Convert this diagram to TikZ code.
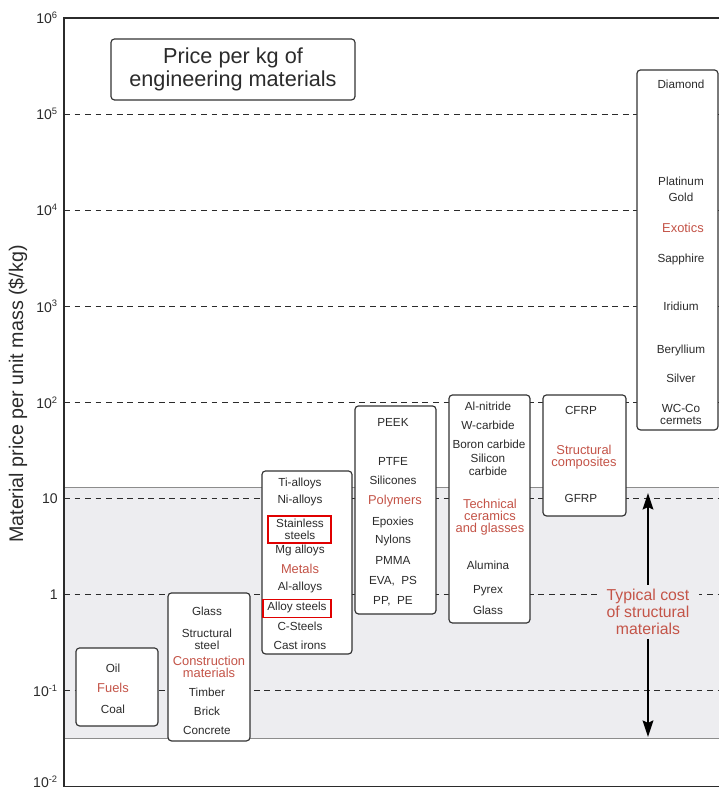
\documentclass[tikz,border=0pt]{standalone}
\usepackage{fontspec}
\setmainfont{Liberation Sans}
\usetikzlibrary{arrows.meta}

\begin{document}
\begin{tikzpicture}[x=0.03cm, y=2.883cm,
  matbox/.style={draw=boxline, line width=1pt, rounded corners=3pt, fill=white},
  matitem/.style={text=ink, font=\fontsize{10}{10.5}\selectfont, align=center, inner sep=1pt},
  matgroup/.style={text=redtext, font=\fontsize{11}{10.5}\selectfont, align=center, inner sep=1pt},
  redframe/.style={draw=frame, line width=1.6pt, inner sep=0pt},
  decadeline/.style={draw=ink, line width=0.8pt, dash pattern=on 5pt off 4pt},
  ticklabel/.style={anchor=east, text=ink, font=\fontsize{12}{12}\selectfont, inner sep=0pt},
  costarrow/.style={-{Stealth[length=14pt, width=9pt, inset=2pt]}, line width=2.2pt, black}]
\definecolor{ink}{HTML}{2B2B2B}
\definecolor{boxline}{HTML}{333333}
\definecolor{redtext}{HTML}{C45448}
\definecolor{frame}{HTML}{E00000}
\definecolor{bandfill}{HTML}{EDEDF0}
\definecolor{bandline}{HTML}{8C8C8C}
\useasboundingbox (0,-2.044) rectangle (719,6.187);
%Band of typical structural prices:
\fill[bandfill] (64,-1.5) rectangle (719,1.11);
\draw[bandline, line width=0.8pt] (64,1.11) -- (719,1.11) (64,-1.5) -- (719,-1.5);
%Decades:
\draw[decadeline] (64,5) -- (719,5);
\draw[decadeline] (64,4) -- (719,4);
\draw[decadeline] (64,3) -- (719,3);
\draw[decadeline] (64,2) -- (719,2);
\draw[decadeline] (64,1) -- (719,1);
\draw[decadeline] (64,0) -- (719,0);
\draw[decadeline] (64,-1) -- (719,-1);
%Axis:
\draw[ink, line width=1.2pt] (719,6) -- (64,6) -- (64,-2) -- (719,-2);
\node[ticklabel] (t6) at (58,6) {10\textsuperscript{6}};
\node[ticklabel] (t5) at (58,5) {10\textsuperscript{5}};
\node[ticklabel] (t4) at (58,4) {10\textsuperscript{4}};
\node[ticklabel] (t3) at (58,3) {10\textsuperscript{3}};
\node[ticklabel] (t2) at (58,2) {10\textsuperscript{2}};
\node[ticklabel] (t1) at (58,1) {10};
\node[ticklabel] (t0) at (58,0) {1};
\node[ticklabel] (tm1) at (58,-1) {10\textsuperscript{-1}};
\node[ticklabel, anchor=south east] (tm2) at (58,-2.012) {10\textsuperscript{-2}};
\node[rotate=90, text=ink, font=\fontsize{16.8}{17}\selectfont] (ylabel) at (18,2.087) {Material price per unit mass (\$/kg)};
%Title:
\node[draw=boxline, line width=1pt, rounded corners=3pt, minimum width=7.32cm, minimum height=1.83cm, align=center, text=ink, font=\fontsize{18.5}{20}\selectfont] (title) at (233,5.464) {Price per kg of\\engineering materials};
%Fuels:
\draw[matbox] (76,-0.556) rectangle (158,-1.367);
\node[matitem] (oil) at (113,-0.764) {Oil};
\node[matgroup] (fuels) at (113,-0.972) {Fuels};
\node[matitem] (coal) at (113,-1.190) {Coal};
%Construction materials:
\draw[matbox] (168,0.017) rectangle (250,-1.523);
\node[matitem] (cglass) at (207,-0.171) {Glass};
\node[matitem] (ssteel) at (207,-0.462) {Structural\\steel};
\node[matgroup] (construction) at (209,-0.753) {Construction\\materials};
\node[matitem] (timber) at (207,-1.014) {Timber};
\node[matitem] (brick) at (207,-1.211) {Brick};
\node[matitem] (concrete) at (207,-1.409) {Concrete};
%Metals:
\draw[matbox] (262,1.286) rectangle (352,-0.618);
\node[matitem] (ti) at (300,1.161) {Ti-alloys};
\node[matitem] (ni) at (300,0.974) {Ni-alloys};
\node[matitem] (stainless) at (300,0.677) {Stainless\\steels};
\node[redframe, minimum width=1.89cm, minimum height=0.81cm] (stainlessframe) at (299.5,0.677) {};
\node[matitem] (mg) at (300,0.454) {Mg alloys};
\node[matgroup] (metals) at (300,0.266) {Metals};
\node[matitem] (al) at (300,0.069) {Al-alloys};
\node[matitem] (alloy) at (297,-0.135) {Alloy steels};
\node[redframe, minimum width=2.04cm, minimum height=0.54cm] (alloyframe) at (297,-0.145) {};
\node[matitem] (csteel) at (300,-0.327) {C-Steels};
\node[matitem] (cast) at (300,-0.525) {Cast irons};
%Polymers:
\draw[matbox] (355,1.963) rectangle (436,-0.202);
\node[matitem] (peek) at (393,1.796) {PEEK};
\node[matitem] (ptfe) at (393,1.380) {PTFE};
\node[matitem] (silicones) at (393,1.192) {Silicones};
\node[matgroup] (polymers) at (395,0.974) {Polymers};
\node[matitem] (epoxies) at (393,0.755) {Epoxies};
\node[matitem] (nylons) at (393,0.558) {Nylons};
\node[matitem] (pmma) at (393,0.350) {PMMA};
\node[matitem] (eva) at (393,0.142) {EVA, \ PS};
\node[matitem] (pp) at (393,-0.067) {PP, \ PE};
%Technical ceramics:
\draw[matbox] (449,2.077) rectangle (530,-0.296);
\node[matitem] (aln) at (488,1.963) {Al-nitride};
\node[matitem] (wc) at (488,1.765) {W-carbide};
\node[matitem] (boron) at (489,1.567) {Boron carbide};
\node[matitem] (sic) at (488,1.349) {Silicon\\carbide};
\node[matgroup] (ceramics) at (490,0.807) {Technical\\ceramics\\and glasses};
\node[matitem] (alumina) at (488,0.308) {Alumina};
\node[matitem] (pyrex) at (488,0.037) {Pyrex};
\node[matitem] (tglass) at (488,-0.160) {Glass};
%Structural composites:
\draw[matbox] (543,2.077) rectangle (626,0.818);
\node[matitem] (cfrp) at (581,1.911) {CFRP};
\node[matgroup] (composites) at (584,1.432) {Structural\\composites};
\node[matitem] (gfrp) at (581,1.005) {GFRP};
%Exotics:
\draw[matbox] (637,5.459) rectangle (718,1.713);
\node[matitem] (diamond) at (681,5.313) {Diamond};
\node[matitem] (platinum) at (681,4.304) {Platinum};
\node[matitem] (gold) at (681,4.137) {Gold};
\node[matgroup] (exotics) at (683,3.815) {Exotics};
\node[matitem] (sapphire) at (681,3.492) {Sapphire};
\node[matitem] (iridium) at (681,3.003) {Iridium};
\node[matitem] (beryllium) at (681,2.545) {Beryllium};
\node[matitem] (silver) at (681,2.254) {Silver};
\node[matitem] (wcco) at (681,1.874) {WC-Co\\cermets};
%Typical cost:
\node[matgroup, font=\fontsize{13.5}{14.5}\selectfont, fill=bandfill, inner xsep=0.3cm, inner ysep=0.12cm] (typical) at (648,-0.181) {Typical cost\\of structural\\materials};
\coordinate (costtop) at (648,1.057);
\coordinate (costbot) at (648,-1.482);
\draw[costarrow] (typical) -- (costtop);
\draw[costarrow] (typical) -- (costbot);
\end{tikzpicture}
\end{document}
